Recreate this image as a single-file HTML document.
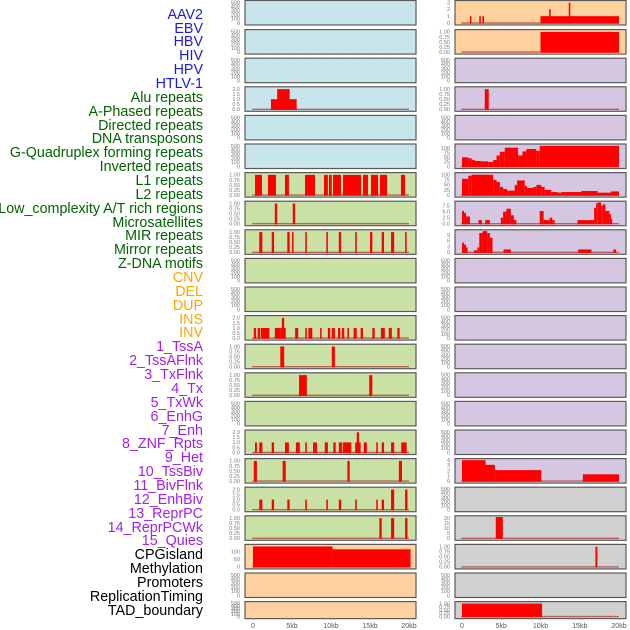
<!DOCTYPE html>
<html><head><meta charset="utf-8">
<style>
html,body{margin:0;padding:0;background:#fff;width:630px;height:630px;overflow:hidden}
#wrap{position:relative;width:630px;height:630px}
.lab{position:absolute;right:427px;font-family:"Liberation Sans",sans-serif;font-size:14.3px;line-height:14px;white-space:nowrap}
svg{position:absolute;left:0;top:0}
</style></head><body>
<div id="wrap">
<svg id="chart" width="630" height="630"></svg>
</div>
<script>
// ---- track labels ----
const labelNames=["AAV2","EBV","HBV","HIV","HPV","HTLV-1","Alu repeats","A-Phased repeats","Directed repeats","DNA transposons","G-Quadruplex forming repeats","Inverted repeats","L1 repeats","L2 repeats","Low_complexity A/T rich regions","Microsatellites","MIR repeats","Mirror repeats","Z-DNA motifs","CNV","DEL","DUP","INS","INV","1_TssA","2_TssAFlnk","3_TxFlnk","4_Tx","5_TxWk","6_EnhG","7_Enh","8_ZNF_Rpts","9_Het","10_TssBiv","11_BivFlnk","12_EnhBiv","13_ReprPC","14_ReprPCWk","15_Quies","CPGisland","Methylation","Promoters","ReplicationTiming","TAD_boundary"];
const labelGroups=[6,13,5,15,5];
const groupColors=["#1a1ae6","#006400","#ffa500","#a020f0","#000000"];
// ---- x axis ----
const xTickValues=[0,5,10,15,20];
const xTickLabels=["0","5kb","10kb","15kb","20kb"];
// ---- panel backgrounds per row ----
const leftBg=["b","b","b","b","b","b","g","g","g","g","g","g","g","g","g","g","g","g","g","p","p","p"];
const rightBg=["p","p","l","l","l","l","l","l","l","l","l","l","l","l","l","l","l","k","k","k","k","k"];
// ---- left column data: [startKb,endKb,value] ----
const leftAlu=[[2.3,5.6,1],[3.1,4.7,2]];
const leftL1=[[0.26,1.15,1],[1.92,2.95,1],[4.1,4.6,1],[6.67,7.95,1],[9.1,9.6,1],[9.74,10.1,1],[10.26,11.28,1],[11.54,12.69,1],[12.69,13.85,1],[14.1,14.74,1],[15.13,16.03,1],[16.28,17.18,1],[18.97,19.49,1]];
const leftL2=[[2.8,3.1,1],[5.1,5.4,1]];
const leftLow=[[0.8,1.2,1],[2.4,2.7,1],[4.4,4.7,1],[5.0,5.2,1],[6.7,6.9,1],[9.4,9.6,1],[11.0,11.3,1],[13.1,13.3,1],[15.0,15.3,1],[16.5,16.8,1],[17.7,18.1,1],[19.5,19.7,1]];
const leftR12=[[0.1,0.4,1],[0.6,0.9,1],[1.0,2.1,1],[2.8,3.5,1],[3.5,4.2,1],[3.7,4.0,2],[5.4,5.8,1],[6.7,6.9,1],[7.1,7.6,1],[8.6,8.8,1],[9.6,9.9,1],[10.1,10.5,1],[10.9,11.2,1],[11.4,11.7,1],[12.1,12.3,1],[12.9,13.3,1],[13.8,14.1,1],[15.3,15.6,1],[16.4,16.9,1],[17.4,17.8,1],[18.5,18.8,1]];
const leftR13=[[3.5,4.0,1],[10.1,10.5,1]];
const leftR14=[[5.9,6.9,1],[14.9,15.3,1]];
const leftR16=[[0.26,0.5,1],[0.8,1.2,1],[2.4,2.7,1],[4.1,4.6,1],[5.5,6.0,1],[6.7,6.9,1],[7.7,8.2,1],[9.2,9.6,1],[10.3,10.6,1],[11.0,11.4,1],[11.5,12.6,1],[13.1,13.8,1],[13.3,13.6,2],[14.2,14.6,1],[15.8,16.0,1],[16.5,16.8,1],[17.7,18.1,1],[19.0,19.7,1]];
const leftR17=[[0.1,0.5,1],[3.8,4.2,1],[12.1,12.4,1],[18.7,19.1,1]];
const leftR18=[[0.8,1.2,1],[2.4,2.7,1],[4.4,4.7,1],[6.7,6.9,1],[9.4,9.6,1],[11.0,11.3,1],[13.1,13.3,1],[15.8,16.0,1],[16.5,16.8,1],[17.7,18.1,2],[19.5,19.8,2]];
const leftR19=[[16.2,16.5,1],[17.7,18.1,1],[19.5,19.8,1]];
const leftR20=[[0,10.2,135],[10.2,20.2,116]];
// ---- right column data ----
const rightR1=[[1.0,1.2,1],[2.2,2.4,1],[2.6,2.8,1],[10.0,20.0,1],[11.1,11.3,2],[13.6,13.8,3]];
const rightR2=[[10,20,1]];
const rightR4=[[2.9,3.4,1]];
const gquadBreaks=[0,0.8,1.23,1.65,2.5,3.34,3.97,4.4,4.82,5.45,7.15,7.7,8.2,9.47,9.9,20];
const gquadVals=[50,45,35,30,28,25,35,60,80,102,60,82,95,85,112];
const l1Breaks=[0,0.8,1.23,3.97,4.4,4.82,5.24,5.75,6.72,7.02,7.99,8.29,9.05,9.47,10.1,10.53,11.37,12.22,12.64,15.18,17.29,18.98,20];
const l1Vals=[80,95,100,75,65,40,30,22,50,72,45,35,40,50,40,25,15,12,15,20,12,18];
const lowBreaks=[0,0.25,0.51,1.01,2.11,2.54,2.96,3.55,4.95,5.24,5.66,6.22,6.6,6.93,9.9,10.4,11.16,11.5,11.8,14.7,16.83,17.08,17.29,17.72,17.93,18.27,18.77,18.98,19.11,20];
const lowVals=[5.3,4.5,3,0,1.5,0,1.5,0,2.5,5,6.2,3.5,1.5,0,5.3,1.5,2.5,1.5,0,1.5,6.5,8.5,9,7.5,8,5.3,4,2,0];
const mirBreaks=[0,0.25,0.51,0.72,1.52,1.95,2.2,2.62,3.21,3.55,3.89,5.29,6.22,14.8,16.49,19.28,19.62];
const mirVals=[5,4,2.5,0,1,2.5,10,11,10,7.5,0,1.5,0,1.5,0,1.5];
const rightR17=[[0,3.0,4],[3.0,4.19,3.1],[4.19,10.1,2.1],[15.4,20,1.3]];
const rightR19=[[4.3,5.2,21]];
const rightR20=[[17.0,17.25,1]];
const rightR22=[[0,10.2,1]];
// ---- tick sets ----
const emptyTicks=[0,100,200,300,400,500];
const unitTicks=[0,0.25,0.5,0.75,1];
const twoTicks=[0,0.5,1,1.5,2];

function breaksToSegs(b,v){const s=[];for(let i=0;i<v.length;i++)s.push([b[i],b[i+1],v[i]]);return s;}

const NS="http://www.w3.org/2000/svg";
const svg=document.getElementById("chart");
const bgColors={b:"#c9e5ec",g:"#c9e1a5",p:"#ffd19f",l:"#d5c6e1",k:"#d0d0d0"};
function mk(tag,attrs,parent){const e=document.createElementNS(NS,tag);for(const k in attrs)e.setAttribute(k,attrs[k]);(parent||svg).appendChild(e);return e;}
function fmt(v,ticks){const d=ticks.some(t=>t%1!==0&&(t*4)%1===0&&(t*2)%1!==0)?2:(ticks.some(t=>t%1!==0)?1:0);return v.toFixed(d);}

const cols=[{x0:245,x1:416,z:253,s:7.8,tx:240},{x0:455,x1:626,z:462,s:7.85,tx:450}];
function rowTop(i){return i===0?0:0.5+i*28.6;}
function rowH(i){return i===21?17:24.5;}

// panel specs: [row, col, segs, axisMax, ticks, name]
const specs=[
 [3,0,leftAlu,2.1,twoTicks,"alu"],
 [6,0,leftL1,1.05,unitTicks,"l1"],
 [7,0,leftL2,1.05,unitTicks,"l2"],
 [8,0,leftLow,1.05,unitTicks,"low-complexity"],
 [11,0,leftR12,2.1,twoTicks,"ins"],
 [12,0,leftR13,1.05,unitTicks,"tssa"],
 [13,0,leftR14,1.05,unitTicks,"txflnk"],
 [15,0,leftR16,2.1,twoTicks,"enh"],
 [16,0,leftR17,1.05,unitTicks,"het"],
 [17,0,leftR18,2.1,twoTicks,"bivflnk"],
 [18,0,leftR19,1.05,unitTicks,"reprpc"],
 [19,0,leftR20,140,[0,50,100],"cpgisland"],
 [0,1,rightR1,3.1,[0,1,2,3],"aav2-r"],
 [1,1,rightR2,1.05,unitTicks,"ebv-r"],
 [3,1,rightR4,1.05,unitTicks,"alu-r"],
 [5,1,breaksToSegs(gquadBreaks,gquadVals),115,[0,25,50,75,100],"gquad-r"],
 [6,1,breaksToSegs(l1Breaks,l1Vals),104,[0,25,50,75,100],"l1-r"],
 [7,1,breaksToSegs(lowBreaks,lowVals),8.8,[0,2.5,5,7.5],"low-r"],
 [8,1,breaksToSegs(mirBreaks,mirVals),11,[0,3,6,9],"mir-r"],
 [16,1,rightR17,4.05,[0,1,2,3,4],"tssbiv-r"],
 [18,1,rightR19,21,[0,5,10,15,20],"reprpcwk-r"],
 [19,1,rightR20,1.05,unitTicks,"cpg-r"],
 [21,1,rightR22,1.05,unitTicks,"tad-r"]
];
const specMap={};specs.forEach(s=>specMap[s[0]+"_"+s[1]]=s);

for(let r=0;r<22;r++){
 for(let c=0;c<2;c++){
  const col=cols[c],top=rowTop(r),h=rowH(r);
  const g=mk("g",{});
  
  
  const bg=(c?rightBg:leftBg)[r];
  const rect=mk("rect",{x:col.x0,y:top+0.5,width:col.x1-col.x0,height:h,fill:bgColors[bg],stroke:"#5a5a5a","stroke-width":1.2},g);
  
  
  const sp=specMap[r+"_"+c];
  const axisMax=sp?sp[3]:520, ticks=sp?sp[4]:emptyTicks;
  const yb=top+h-1.5, yt=top+1.8;
  const yS=v=>yb-(Math.min(v,axisMax)/axisMax)*(yb-yt);
  const xS=k=>col.z+k*col.s;
  ticks.forEach(t=>{
   const tx=mk("text",{x:col.tx,y:yS(t)+1.8,"font-size":5.5,"text-anchor":"end",fill:"#7a7a7a","font-family":"Liberation Sans, sans-serif"},g);
   
   
   tx.textContent=sp?fmt(t,ticks):String(t);
  });
  if(sp){
   const base=mk("line",{x1:xS(-0.1),x2:xS(20),y1:yb,y2:yb,stroke:"#b03030","stroke-width":1.4,"stroke-opacity":0.7},g);
   
   
   sp[2].forEach(s=>{
    if(s[2]<=0)return;
    const y=yS(s[2]);
    const b=mk("rect",{x:xS(s[0]),y:y,width:Math.max(1.2,xS(s[1])-xS(s[0])),height:yb-y+0.6,fill:"#ff0000"},g);
    
    
   });
  }
 }
}
// x axes
cols.forEach((col,ci)=>{
 xTickValues.forEach((v,i)=>{
  const x=col.z+v*col.s;
  const tl=mk("line",{x1:x,x2:x,y1:618,y2:620,stroke:"#888","stroke-width":0.8});
  
  
  const t=mk("text",{x:x,y:628,"font-size":7,"text-anchor":"middle",fill:"#555","font-family":"Liberation Sans, sans-serif"});
  
  
  t.textContent=xTickLabels[i];
 });
});
// labels
const wrap=document.getElementById("wrap");
let gi=0,cnt=0;
labelNames.forEach((n,i)=>{
 while(cnt>=labelGroups[gi]){gi++;cnt=0;}
 cnt++;
 const d=document.createElement("div");
 d.className="lab";
 d.style.top=(15+i*13.86-7.3)+"px";
 d.style.color=groupColors[gi];
 d.textContent=n;
 
 
 wrap.appendChild(d);
});
</script>
</body></html>
